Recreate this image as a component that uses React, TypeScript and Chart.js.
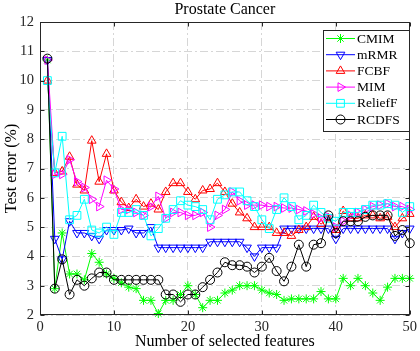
import React, { useEffect, useRef } from 'react';
import { Chart, registerables } from 'chart.js';

Chart.register(...registerables);

const TITLE = 'Prostate Cancer';
const X_LABEL = 'Number of selected features';
const Y_LABEL = 'Test error (%)';

const FEATURES = [
  1, 2, 3, 4, 5, 6, 7, 8, 9, 10,
  11, 12, 13, 14, 15, 16, 17, 18, 19, 20,
  21, 22, 23, 24, 25, 26, 27, 28, 29, 30,
  31, 32, 33, 34, 35, 36, 37, 38, 39, 40,
  41, 42, 43, 44, 45, 46, 47, 48, 49, 50,
];

const CMIM = [
  10.7, 2.9, 4.8, 3.4, 3.4, 3.2, 4.1, 3.8, 3.4, 3.25,
  3.1, 2.95, 2.9, 2.5, 2.5, 2.05, 2.5, 2.5, 2.7, 3.0,
  2.7, 2.25, 2.5, 2.5, 2.75, 2.85, 3.0, 3.0, 3.0, 2.85,
  2.75, 2.7, 2.5, 2.55, 2.55, 2.55, 2.55, 2.8, 2.55, 2.55,
  3.25, 3.0, 3.25, 3.0, 2.75, 2.5, 2.95, 3.25, 3.25, 3.25,
];
const MRMR = [
  10.7, 4.6, 3.9, 5.2, 4.8, 4.8, 4.7, 4.6, 4.9, 4.9,
  4.9, 4.95, 4.8, 4.8, 5.0, 4.3, 4.3, 4.3, 4.3, 4.3,
  4.3, 4.3, 4.5, 4.5, 4.5, 4.5, 4.5, 4.3, 4.0, 4.3,
  4.3, 4.3, 4.95, 4.95, 4.95, 4.95, 4.95, 4.95, 4.95, 4.6,
  4.95, 4.95, 4.95, 4.95, 4.95, 4.95, 4.95, 4.6, 4.8, 4.95,
];
const FCBF = [
  10.0, 6.85, 6.9, 7.4, 6.45, 6.25, 7.95, 6.55, 7.5, 6.25,
  5.85, 5.65, 5.95, 5.7, 5.8, 5.6, 6.2, 6.5, 6.5, 6.2,
  5.95, 6.25, 6.3, 6.5, 6.2, 5.8, 5.5, 5.3, 5.0, 5.0,
  5.0, 4.8, 4.8, 4.7, 4.9, 5.0, 5.35, 5.1, 5.3, 4.9,
  5.55, 5.3, 5.3, 5.4, 5.4, 5.3, 5.35, 5.0, 5.3, 5.45,
];
const MIM = [
  10.7, 6.8, 6.8, 7.3, 6.55, 6.35, 5.95, 5.7, 6.6, 6.3,
  5.6, 5.6, 5.5, 5.4, 5.7, 6.05, 5.3, 5.5, 5.5, 5.4,
  5.4, 5.5, 5.0, 5.4, 5.6, 6.2, 5.9, 5.75, 5.75, 5.75,
  5.7, 5.7, 5.65, 5.65, 5.6, 5.55, 5.45, 5.3, 5.35, 5.0,
  5.2, 5.4, 5.5, 5.6, 5.7, 5.75, 5.8, 5.7, 5.7, 5.6,
];
const RELIEFF = [
  10.0, 6.85, 8.1, 5.25, 5.4, 5.95, 4.9, 4.8, 5.0, 4.75,
  5.5, 5.5, 5.6, 5.4, 4.7, 4.95, 5.3, 5.6, 5.9, 5.75,
  5.7, 5.6, 5.25, 5.95, 6.1, 6.2, 6.2, 5.9, 5.7, 5.25,
  4.95, 5.6, 6.0, 5.7, 5.25, 5.4, 5.75, 5.5, 5.3, 5.2,
  5.5, 5.5, 5.5, 5.6, 5.75, 5.75, 5.8, 5.75, 5.5, 5.7,
];
const RCDFS = [
  10.75, 2.9, 3.9, 2.7, 3.2, 3.0, 3.25, 3.45, 3.45, 3.2,
  3.2, 3.2, 3.2, 3.2, 3.2, 3.2, 2.7, 2.7, 2.45, 2.7,
  2.7, 2.95, 3.2, 3.45, 3.8, 3.7, 3.7, 3.65, 3.45, 3.65,
  3.95, 3.5, 3.15, 3.65, 4.4, 3.65, 4.4, 4.45, 5.4, 4.8,
  5.2, 5.2, 5.2, 5.35, 5.4, 5.4, 5.4, 4.7, 4.9, 4.45,
];

const SERIES_NAMES = ['CMIM', 'mRMR', 'FCBF', 'MIM', 'ReliefF', 'RCDFS'];
const SERIES_VALUES = [CMIM, MRMR, FCBF, MIM, RELIEFF, RCDFS];
const SERIES_COLORS = ['#00ff00', '#0000ff', '#ff0000', '#ff00ff', '#00ffff', '#000000'];
const MARKER_STYLES = ['star', 'triangle', 'triangle', 'triangle', 'rect', 'circle'];
const MARKER_ROTATIONS = [0, 180, 0, 90, 0, 0];
const MARKER_RADII = [4.5, 5, 5, 5, 5.5, 4.5];

const X_TICKS = [0, 10, 20, 30, 40, 50];
const Y_TICKS = [2, 3, 4, 5, 6, 7, 8, 9, 10, 11, 12];

const FONT = '"Liberation Serif", "Times New Roman", serif';
const AXIS_COLOR = '#262626';
const GRID_COLOR = '#d6d6d6';

function drawMarker(ctx: CanvasRenderingContext2D, style: string, rotation: number, r: number, x: number, y: number) {
  ctx.beginPath();
  const rad0 = (rotation * Math.PI) / 180;
  if (style === 'circle') {
    ctx.arc(x, y, r, 0, Math.PI * 2);
  } else if (style === 'triangle') {
    for (let i = 0; i < 3; i++) {
      const a = rad0 + (i * 2 * Math.PI) / 3;
      const px = x + Math.sin(a) * r;
      const py = y - Math.cos(a) * r;
      if (i === 0) ctx.moveTo(px, py);
      else ctx.lineTo(px, py);
    }
    ctx.closePath();
  } else if (style === 'rect') {
    const s = r * Math.SQRT1_2;
    ctx.rect(x - s, y - s, 2 * s, 2 * s);
  } else {
    for (let i = 0; i < 4; i++) {
      const a = (i * Math.PI) / 4;
      ctx.moveTo(x + Math.cos(a) * r, y + Math.sin(a) * r);
      ctx.lineTo(x - Math.cos(a) * r, y - Math.sin(a) * r);
    }
  }
  ctx.stroke();
}

const decorPlugin = {
  id: 'matlabDecor',
  afterDraw(chart: any) {
    const ctx: CanvasRenderingContext2D = chart.ctx;
    const { left, right, top, bottom } = chart.chartArea;
    const xs = chart.scales.x;
    const ys = chart.scales.y;
    ctx.save();
    // box
    ctx.strokeStyle = AXIS_COLOR;
    ctx.lineWidth = 1;
    ctx.setLineDash([]);
    const L = Math.round(left) + 0.5;
    const R = Math.round(right) - 0.5;
    const T = Math.round(top) + 0.5;
    const B = Math.round(bottom) - 0.5;
    ctx.strokeRect(L, T, R - L, B - T);
    // inward ticks
    const tl = 4;
    ctx.beginPath();
    X_TICKS.forEach((v) => {
      const px = Math.round(xs.getPixelForValue(v)) + 0.5;
      ctx.moveTo(px, B);
      ctx.lineTo(px, B - tl);
      ctx.moveTo(px, T);
      ctx.lineTo(px, T + tl);
    });
    Y_TICKS.forEach((v) => {
      const py = Math.round(ys.getPixelForValue(v)) + 0.5;
      ctx.moveTo(L, py);
      ctx.lineTo(L + tl, py);
      ctx.moveTo(R, py);
      ctx.lineTo(R - tl, py);
    });
    ctx.stroke();

    // title
    ctx.fillStyle = '#000';
    ctx.font = `16px ${FONT}`;
    ctx.textAlign = 'center';
    ctx.textBaseline = 'middle';
    ctx.fillText(TITLE, (left + right) / 2, 10);

    // legend
    const bx = 323.5;
    const by = 30.5;
    const bw = 86;
    const bh = 101;
    ctx.fillStyle = '#ffffff';
    ctx.fillRect(bx, by, bw, bh);
    ctx.strokeStyle = AXIS_COLOR;
    ctx.lineWidth = 1;
    ctx.strokeRect(bx, by, bw, bh);
    ctx.font = `13.5px ${FONT}`;
    ctx.textAlign = 'left';
    ctx.textBaseline = 'middle';
    SERIES_NAMES.forEach((name, i) => {
      const y = 38.5 + i * 16.2;
      ctx.strokeStyle = SERIES_COLORS[i];
      ctx.lineWidth = 1;
      ctx.beginPath();
      ctx.moveTo(326, y);
      ctx.lineTo(355, y);
      ctx.stroke();
      drawMarker(ctx, MARKER_STYLES[i], MARKER_ROTATIONS[i], MARKER_RADII[i], 340.5, y);
      ctx.fillStyle = '#000';
      ctx.fillText(name, 357, y + 0.5);
    });
    ctx.restore();
  },
};

export default function App() {
  const canvasRef = useRef<HTMLCanvasElement | null>(null);

  useEffect(() => {
    const canvas = canvasRef.current;
    if (!canvas) return;
    const datasets = SERIES_NAMES.map((name, i) => ({
      label: name,
      data: FEATURES.map((f, k) => ({ x: f, y: SERIES_VALUES[i][k] })),
      borderColor: SERIES_COLORS[i],
      backgroundColor: 'rgba(0,0,0,0)',
      borderWidth: 1,
      pointStyle: MARKER_STYLES[i],
      pointRotation: MARKER_ROTATIONS[i],
      pointRadius: MARKER_RADII[i],
      pointBorderColor: SERIES_COLORS[i],
      pointBackgroundColor: 'rgba(0,0,0,0)',
      pointBorderWidth: 1,
      fill: false,
      tension: 0,
      clip: false as any,
      order: SERIES_NAMES.length - i,
    }));
    const chart = new Chart(canvas, {
      type: 'line',
      data: { datasets },
      plugins: [decorPlugin],
      options: {
        responsive: false,
        animation: false,
        devicePixelRatio: 1,
        layout: { padding: { top: 22, right: 9, left: 0, bottom: 0 } },
        plugins: {
          legend: { display: false },
          title: { display: false },
          tooltip: { enabled: false },
        },
        scales: {
          x: {
            type: 'linear',
            min: 0,
            max: 50,
            afterFit: (s: any) => {
              s.height = 36;
            },
            afterBuildTicks: (s: any) => {
              s.ticks = X_TICKS.map((v) => ({ value: v }));
            },
            ticks: {
              font: { family: FONT, size: 14.5 },
              color: AXIS_COLOR,
              padding: 3,
              maxRotation: 0,
              autoSkip: false,
            },
            grid: { color: GRID_COLOR, drawTicks: false, lineWidth: 1 },
            border: { display: false, dash: [8, 3, 2, 3] },
            title: {
              display: true,
              text: X_LABEL,
              font: { family: FONT, size: 16, lineHeight: 1 },
              color: '#000',
              padding: { top: 0, bottom: 1 },
            },
          },
          y: {
            type: 'linear',
            min: 2,
            max: 12,
            afterFit: (s: any) => {
              s.width = 40;
            },
            afterBuildTicks: (s: any) => {
              s.ticks = Y_TICKS.map((v) => ({ value: v }));
            },
            ticks: {
              font: { family: FONT, size: 14.5 },
              color: AXIS_COLOR,
              padding: 6,
              autoSkip: false,
            },
            grid: { color: GRID_COLOR, drawTicks: false, lineWidth: 1 },
            border: { display: false, dash: [8, 3, 2, 3] },
            title: {
              display: true,
              text: Y_LABEL,
              font: { family: FONT, size: 16, lineHeight: 1 },
              color: '#000',
              padding: { top: 4, bottom: 0 },
            },
          },
        },
      },
    });
    return () => chart.destroy();
  }, []);

  return (
    <div style={{ position: 'fixed', left: 0, top: 0, width: 420, height: 351, background: '#fff' }}>
      <canvas ref={canvasRef} width={420} height={351} style={{ display: 'block', width: 420, height: 351 }} />
    </div>
  );
}
